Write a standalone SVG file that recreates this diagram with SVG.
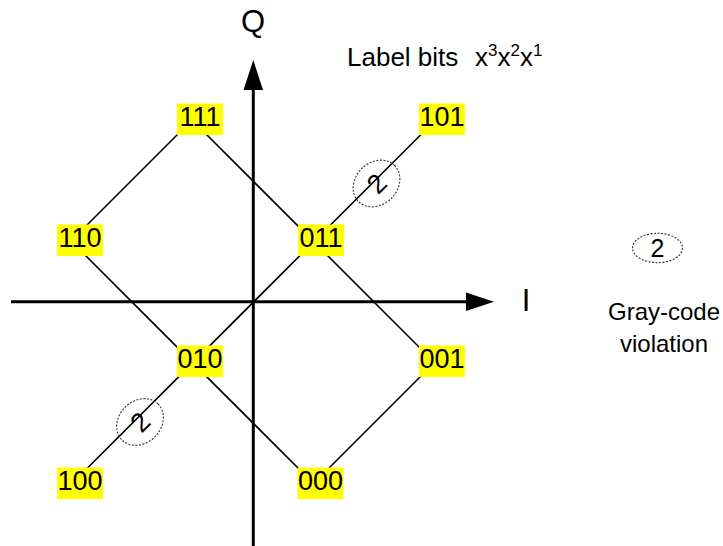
<svg xmlns="http://www.w3.org/2000/svg" width="723" height="546" viewBox="0 0 723 546">
<style>
text { font-family: "Liberation Sans", Arial, sans-serif; fill: #000; }
.lbl { font-size: 27px; text-anchor: middle; }
.box { fill: #FFFF00; stroke: none; }
.edge { stroke: #000; stroke-width: 1.6; fill: none; }
.axis { stroke: #000; stroke-width: 3; fill: none; }
.viol { fill: none; stroke: #333; stroke-width: 1.1; stroke-dasharray: 2 1.5; }
</style>
<rect width="723" height="546" fill="#fff"/>
<g id="connectors">
  <line class="edge" x1="72" y1="240" x2="192" y2="120"/>
  <line class="edge" x1="192" y1="120" x2="433" y2="361"/>
  <line class="edge" x1="72.5" y1="483" x2="436" y2="119.5"/>
  <line class="edge" x1="70" y1="240" x2="313" y2="483"/>
  <line class="edge" x1="314" y1="483" x2="436" y2="361"/>
</g>
<g id="axes">
  <line class="axis" x1="11" y1="301.7" x2="470" y2="301.7"/>
  <polygon points="466,292.5 494,301.7 466,311" fill="#000"/>
  <line class="axis" x1="253.3" y1="546" x2="253.3" y2="86"/>
  <polygon points="243.5,90 253.3,60 263,90" fill="#000"/>
  <text x="253" y="32" font-size="31" text-anchor="middle">Q</text>
  <text x="526" y="311" font-size="31" text-anchor="middle">I</text>
</g>
<g id="n111"><rect class="box" x="177" y="103.5" width="46" height="31.5"/><text class="lbl" x="200" y="126.3">111</text></g>
<g id="n101"><rect class="box" x="419" y="103.5" width="46" height="31.5"/><text class="lbl" x="442" y="126.3">101</text></g>
<g id="n110"><rect class="box" x="57" y="224.5" width="46" height="31.5"/><text class="lbl" x="80" y="247.3">110</text></g>
<g id="n011"><rect class="box" x="298" y="224.5" width="46" height="31.5"/><text class="lbl" x="321" y="247.3">011</text></g>
<g id="n010"><rect class="box" x="177" y="345.5" width="46" height="31.5"/><text class="lbl" x="200" y="368.3">010</text></g>
<g id="n001"><rect class="box" x="419" y="345.5" width="46" height="31.5"/><text class="lbl" x="442" y="368.3">001</text></g>
<g id="n100"><rect class="box" x="57" y="467.5" width="46" height="31.5"/><text class="lbl" x="80" y="490.3">100</text></g>
<g id="n000"><rect class="box" x="297.5" y="467.5" width="46" height="31.5"/><text class="lbl" x="320.5" y="490.3">000</text></g>
<g id="violation-upper" transform="translate(376.5,183.5) rotate(-45)">
  <ellipse class="viol" cx="0" cy="0" rx="25.5" ry="21"/>
  <text class="lbl" x="0" y="9.5">2</text>
</g>
<g id="violation-lower" transform="translate(140,422) rotate(-45)">
  <ellipse class="viol" cx="0" cy="0" rx="25.5" ry="21"/>
  <text class="lbl" x="0" y="9.5">2</text>
</g>
<g id="legend">
  <text x="347" y="66" font-size="26">Label bits<tspan x="475">x</tspan><tspan font-size="17" dy="-10">3</tspan><tspan dy="10">x</tspan><tspan font-size="17" dy="-10">2</tspan><tspan dy="10">x</tspan><tspan font-size="17" dy="-10">1</tspan></text>
  <ellipse class="viol" cx="657.5" cy="248" rx="25" ry="14.7"/>
  <text x="657.5" y="257" font-size="25" text-anchor="middle">2</text>
  <text x="664" y="320" font-size="24" text-anchor="middle">Gray-code</text>
  <text x="664" y="351.5" font-size="24" text-anchor="middle">violation</text>
</g>
</svg>
